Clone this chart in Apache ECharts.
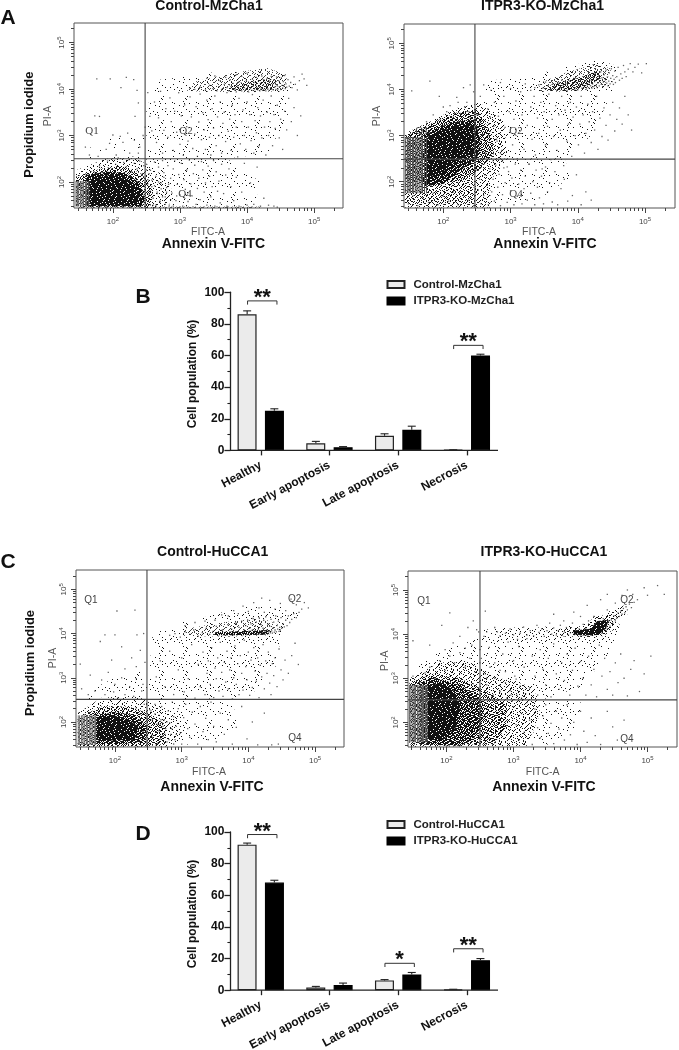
<!DOCTYPE html>
<html><head><meta charset="utf-8"><style>html,body{margin:0;background:#fff}#c{width:679px;height:1050px;filter:blur(.4px)}</style>
<script src="https://cdn.jsdelivr.net/npm/echarts@6/dist/echarts.min.js"></script></head><body><div id="c"></div>
<script>
// ---- bar data ----
const categories=['Healthy','Early apoptosis','Late apoptosis','Necrosis'];
const mzControl=[86,4.5,9.3,0.3], mzControlErr=[2.2,1.2,1.2,0.1];
const mzKO=[25,2,13,60], mzKOErr=[1.3,0.4,2.3,0.8];
const huControl=[92,1.7,6.2,0.5], huControlErr=[1,0.7,0.5,0.1];
const huKO=[68,3.3,10,19], huKOErr=[1.5,1.2,1.2,1];
const mzBrackets=[[0,94.5,'**'],[3,66.4,'**']];
const huBrackets=[[0,98.4,'**'],[2,17,'*'],[3,26.2,'**']];
const decadeTicks=[2,3,4,5];
// ---- flow cytometry density regions: [density level, opacity, outline in log10 FITC / log10 PI] ----
const aRegions=[
 [.4,1,[[2.5,2.5],[2.5,3.6],[2.7,4.2],[3.3,4.3],[3.8,4.45],[4.5,4.4],[4.7,4.1],[4.6,3.4],[4.3,2.6],[3.6,2.5]]],
 [.4,1,[[2.5,2.5],[3.7,2.5],[4.2,2.0],[4.1,1.47],[2.5,1.47]]],
 [.3,1,[[1.5,2.5],[2.48,2.5],[2.48,3.0],[2.0,2.95],[1.6,2.7]]],
 [4,.6,[[2.5,1.44],[4.2,1.44],[4.2,1.47],[2.5,1.47]]],
 [2,.8,[[3.1,3.95],[3.2,4.15],[3.8,4.35],[4.3,4.45],[4.6,4.3],[4.55,3.95],[4.0,3.93]]],
 [4,.9,[[3.7,3.97],[3.75,4.1],[4.2,4.2],[4.45,4.2],[4.4,4.0],[4.0,3.97]]],
 [1.5,1,[[1.45,1.45],[1.45,2.25],[1.9,2.5],[2.3,2.55],[2.6,2.3],[2.85,2.0],[2.9,1.6],[2.75,1.45]]],
 [4,1,[[1.45,1.45],[1.45,2.12],[1.8,2.28],[2.1,2.35],[2.4,2.2],[2.55,2.0],[2.6,1.7],[2.55,1.45]]],
 [8,1,[[1.6,1.47],[1.6,2.15],[1.9,2.22],[2.2,2.2],[2.42,1.95],[2.47,1.6],[2.42,1.47]]],
 [9,1,[[1.66,1.5],[1.66,2.05],[1.8,2.1],[1.96,2.15],[2.15,2.08],[2.31,1.98],[2.4,1.75],[2.35,1.5]]]];
const bRegions=[
 [.5,1,[[2.5,2.5],[2.5,3.8],[2.7,4.2],[3.2,4.25],[3.7,4.45],[4.3,4.65],[4.6,4.5],[4.5,3.9],[4.2,3.0],[3.8,2.5]]],
 [.4,1,[[2.5,2.5],[3.8,2.5],[3.9,2.1],[3.4,1.6],[2.5,1.47]]],
 [2,1,[[1.43,1.44],[1.43,3.05],[1.8,3.3],[2.2,3.6],[2.55,3.7],[2.9,3.3],[2.95,2.6],[2.7,2.0],[2.7,1.44]]],
 [3,1,[[1.45,1.5],[1.45,2.2],[2.4,2.2],[2.5,1.5]]],
 [5,1,[[1.45,2.0],[1.45,3],[1.8,3.25],[2.2,3.5],[2.5,3.55],[2.7,3.1],[2.75,2.6],[2.5,2.2],[2.2,2.0]]],
 [8,1,[[1.72,1.9],[1.72,3.0],[1.95,3.2],[2.2,3.3],[2.47,3.35],[2.55,2.9],[2.5,2.5],[2.25,2.25],[2.0,1.95]]],
 [9,1,[[1.76,2.97],[1.95,3.1],[2.2,3.2],[2.42,3.22],[2.47,2.9],[2.42,2.6],[2.15,2.42],[1.95,2.15],[1.76,2.12]]],
 [2.5,.8,[[3.4,3.95],[3.45,4.15],[3.8,4.35],[4.25,4.55],[4.5,4.45],[4.4,4.1],[4.0,3.95]]],
 [5,.9,[[3.55,4.0],[3.6,4.1],[4.0,4.25],[4.3,4.4],[4.35,4.25],[4.1,4.03],[3.8,3.97]]]];
const cRegions=[
 [.5,1,[[2.5,2.5],[2.55,3.9],[2.8,4.2],[3.3,4.35],[3.9,4.6],[4.5,4.6],[4.8,4.45],[4.5,4.0],[4.4,3.2],[4.0,2.55]]],
 [.4,1,[[2.5,2.5],[3.7,2.5],[3.9,2.0],[3.4,1.5],[2.5,1.47]]],
 [.4,1,[[1.5,2.5],[2.48,2.5],[2.48,3.2],[2.0,3.0],[1.6,2.7]]],
 [1.5,1,[[1.44,1.44],[1.44,2.2],[1.8,2.55],[2.3,2.6],[2.7,2.35],[3.0,2.1],[3.0,1.6],[2.75,1.44]]],
 [4,1,[[1.45,1.45],[1.45,2.1],[1.8,2.35],[2.2,2.35],[2.5,2.2],[2.75,1.95],[2.75,1.5],[2.5,1.45]]],
 [7,1,[[1.7,1.5],[1.7,2.15],[2.0,2.22],[2.3,2.15],[2.48,1.9],[2.45,1.55],[2.1,1.5]]],
 [9,1,[[1.73,1.58],[1.73,2.1],[1.98,2.15],[2.2,2.05],[2.35,1.9],[2.3,1.6],[2.0,1.58]]],
 [2,.8,[[3.0,3.95],[3.05,4.1],[3.6,4.25],[4.2,4.35],[4.45,4.2],[4.3,3.96],[3.7,3.93]]],
 [7,1,[[3.5,3.96],[3.5,4.03],[4.3,4.08],[4.3,3.98],[3.9,3.96]]]];
const dRegions=[
 [.6,1,[[2.5,2.6],[2.5,4.1],[3.2,4.15],[3.9,4.2],[4.4,4.4],[4.6,4.2],[4.4,3.5],[4.0,2.8],[3.4,2.5]]],
 [.5,1,[[3.3,2.5],[4.0,2.5],[4.0,2.0],[3.6,1.5],[3.3,1.5]]],
 [.6,1,[[1.5,3.2],[1.9,3.6],[2.48,3.9],[2.48,3.2]]],
 [2,1,[[1.45,1.45],[1.45,3],[1.9,3.35],[2.3,3.4],[2.8,3.0],[3.3,2.8],[3.4,2.2],[3.2,1.47]]],
 [4.5,1,[[1.45,1.5],[1.45,2.9],[1.8,3.1],[2.2,3.0],[2.6,2.7],[2.9,2.4],[2.9,1.9],[2.7,1.5]]],
 [7,1,[[1.6,1.5],[1.6,2.9],[1.85,3.0],[2.2,2.85],[2.5,2.55],[2.55,2.1],[2.4,1.6],[2.2,1.47]]],
 [9,1,[[1.72,2.8],[1.9,2.9],[2.1,2.75],[2.2,2.4],[2.15,1.9],[1.95,1.6],[1.72,1.6]]],
 [1,1,[[2.8,3.9],[2.8,4.15],[3.7,4.15],[3.9,3.95]]],
 [2.5,1,[[3.7,3.95],[3.7,4.12],[4.1,4.2],[4.2,4.4],[4.5,4.45],[4.5,4.1],[4.3,3.93]]],
 [1.5,1,[[4.4,4.25],[4.4,4.5],[4.65,4.65],[4.7,4.45]]],
 [9,1,[[3.9,4.0],[3.9,4.08],[4.15,4.12],[4.25,4.3],[4.42,4.32],[4.38,4.12],[4.25,3.98],[4.05,3.97]]]];
const aStripes=[1.45,1.47,1.49,1.52,1.54,1.56,1.59,1.61,1.64], aStripeSpan=[1.47,2.02];
const bStripes=[1.44,1.47,1.49,1.51,1.54,1.56,1.59,1.61,1.64,1.67,1.69,1.72,1.75], bStripeSpan=[1.75,2.97];
const cStripes=[1.45,1.47,1.5,1.52,1.54,1.57,1.59,1.62,1.64,1.66,1.69,1.71], cStripeSpan=[1.48,2.15];
const dStripes=[1.45,1.47,1.5,1.52,1.54,1.57,1.59,1.62,1.64,1.66,1.69,1.71], dStripeSpan=[1.55,2.85];
// ---- individual events: log10 FITC, log10 PI x100, flat pairs ----
const aDots=[315,402,322,399,330,404,338,398,344,408,349,401,355,396,358,405,362,399,366,410,370,403,373,396,376,405,379,412,382,400,384,394,386,407,388,416,390,401,392,396,394,409,396,403,398,399,399,418,401,406,402,394,404,412,405,401,407,397,408,421,409,406,410,414,411,400,412,395,413,409,414,425,415,403,416,398,417,417,418,407,419,396,420,412,421,402,422,428,423,397,424,408,425,420,426,401,427,414,428,396,429,406,430,423,431,400,432,411,433,397,434,417,435,403,436,427,437,399,438,410,439,398,440,420,441,404,442,413,443,399,444,426,445,407,446,400,447,418,448,405,449,412,450,399,451,424,452,408,453,402,454,416,455,406,456,429,457,401,458,411,459,404,461,420,463,406,465,414,467,403,470,426,472,410,475,398,478,418,482,432,485,422,489,408,340,423,352,428,360,418,368,425,375,420,384,431,392,427,400,434,
252,392,255,341,258,310,262,372,265,285,268,338,271,395,274,262,276,311,279,358,282,296,285,381,287,330,290,268,292,352,295,307,298,392,300,281,302,342,305,257,307,366,310,319,312,288,315,383,317,340,319,272,322,303,324,362,326,255,328,329,330,389,332,291,334,349,336,312,338,270,340,376,342,334,344,296,346,258,348,358,350,316,352,385,354,278,356,340,358,300,360,372,362,262,364,326,366,350,368,287,370,392,372,309,374,335,376,268,378,365,380,296,382,345,384,318,386,254,388,380,390,282,392,330,394,355,396,300,398,270,400,372,402,318,404,345,406,289,408,388,410,262,412,332,414,306,416,360,418,278,420,342,422,295,424,376,426,318,428,258,430,350,432,300,434,330,436,385,438,278,440,345,442,315,445,365,448,295,450,335,453,270,456,352,459,312,462,380,466,330,470,360,475,300,480,342,
250,238,252,205,254,172,256,225,258,190,260,150,262,243,264,212,266,178,268,232,270,158,272,198,274,246,276,220,278,168,280,188,282,235,284,150,286,208,288,176,290,228,292,245,294,160,296,195,298,216,300,172,302,240,304,148,306,205,308,184,310,226,312,158,314,247,316,196,318,170,320,218,322,236,324,152,326,186,328,208,330,162,332,244,334,226,336,178,338,198,340,150,342,234,344,212,346,168,348,190,350,246,352,148,354,222,356,180,358,202,360,155,362,238,365,175,368,215,370,148,373,228,376,190,380,160,384,210,388,148,392,178,396,240,400,150,405,198,410,152,415,232,420,148,425,165,432,150,440,148,445,146,
176,422,196,422,220,425,231,420,236,397,212,403,173,342,180,341,238,370,233,341,200,301,211,298,159,275,190,270,215,285,225,262,240,275,205,258,178,255,232,290,245,300,195,283,165,258,222,305,238,262,248,318,
160,215,172,222,180,235,186,218,192,245,198,228,204,238,208,252,212,226,216,242,220,233,224,248,228,222,232,240,236,228,240,245,244,218,246,235,248,208,250,226,252,196,254,218,256,180,258,204,260,165,262,192,264,150,266,175,268,200,270,158,272,185,274,168,276,210,278,152,280,178,283,195,286,162,290,148,295,170];
const bDots=[330,398,336,404,342,410,348,403,352,416,356,408,360,400,363,412,366,405,369,398,372,414,374,404,376,420,378,409,380,401,382,413,384,398,386,406,388,418,390,402,392,411,394,424,396,404,398,415,400,399,402,409,404,421,406,403,408,413,409,428,410,406,412,418,413,401,414,410,415,425,416,404,417,415,418,432,419,408,420,420,421,403,422,412,423,427,424,406,425,417,426,435,427,409,428,422,429,404,430,414,431,429,432,408,433,419,434,438,435,411,436,425,437,406,438,416,439,432,440,410,441,421,442,442,443,414,444,427,445,408,446,418,447,436,448,412,449,424,450,445,451,417,452,430,453,411,454,422,455,440,456,415,458,428,460,448,462,420,464,434,466,424,468,452,470,438,472,428,475,444,478,456,482,438,485,448,490,455,495,436,502,456,
252,345,255,385,258,302,260,410,263,262,266,358,268,325,271,398,274,245,276,372,279,292,282,342,285,415,287,268,290,385,292,318,295,232,298,352,300,402,303,280,305,335,308,375,310,250,312,305,315,395,317,345,320,270,322,412,325,322,327,238,330,362,332,292,335,385,337,258,340,338,342,305,345,372,347,228,350,352,352,280,355,320,357,390,360,248,362,335,364,298,367,365,369,268,372,345,374,312,376,385,379,235,381,355,384,288,386,325,389,372,391,255,393,340,396,300,398,362,401,280,403,325,405,385,408,345,410,262,412,305,415,368,417,330,420,285,422,352,425,312,428,385,430,270,433,338,436,298,439,360,442,322,445,290,448,345,452,372,455,310,458,335,462,360,466,325,470,385,475,345,480,312,
250,225,252,182,254,205,256,152,258,238,260,170,262,215,265,192,267,150,269,228,272,178,274,205,276,158,278,236,281,188,283,216,285,148,288,172,290,230,292,198,295,155,297,222,300,180,302,208,305,150,307,238,310,168,312,195,315,225,317,152,320,185,322,212,325,160,328,238,330,175,333,200,336,150,338,225,340,188,343,165,346,212,349,152,352,232,355,178,358,198,362,156,366,222,370,150,375,185,380,205,385,158,392,170,398,215,405,150,412,178,420,160,
180,418,153,397,194,385,230,404,220,383,240,410,235,372,210,365,245,395,175,330,185,345,195,335,205,352,215,340,225,348,232,362,240,338,248,355,255,330,200,362,222,372,238,352,250,345,262,318,270,340,268,300,275,320,280,288,285,262,288,245,148,152,155,170,162,148,170,165,178,155,185,175,192,150,200,168,208,158,215,178,222,150,230,170,238,160,245,148];
const cDots=[282,396,290,400,298,392,305,404,312,398,318,408,325,394,331,402,337,412,342,398,347,405,352,416,357,400,361,408,365,396,369,420,372,402,375,410,378,398,381,424,384,404,386,414,388,398,390,428,392,402,394,408,396,418,398,398,399,430,401,404,402,412,403,398,404,422,405,402,406,408,407,434,408,399,409,404,410,416,411,400,412,426,413,403,414,398,415,410,416,436,417,400,418,405,419,420,420,399,421,403,422,412,423,430,424,400,425,404,426,438,427,401,428,408,429,422,430,400,431,405,432,416,433,402,434,432,435,406,436,401,437,412,438,426,439,403,440,408,441,440,442,404,443,418,444,410,445,428,446,405,447,414,448,408,449,436,450,412,452,422,454,415,456,430,458,418,460,440,462,425,465,432,468,445,472,436,476,448,480,455,
370,440,378,452,385,445,392,462,400,450,408,470,416,458,424,448,432,475,440,455,448,468,456,452,464,478,472,465,484,470,490,458,420,480,350,430,335,428,320,425,305,418,360,442,
262,302,268,338,275,280,282,360,288,262,295,318,300,345,304,268,310,298,315,375,320,254,325,330,328,280,332,358,335,262,338,310,340,338,343,285,345,368,348,255,350,322,352,298,354,345,356,270,358,380,360,312,362,258,364,335,366,290,368,360,370,275,372,318,374,345,376,252,378,300,380,372,382,285,384,332,386,262,388,350,390,310,392,272,394,385,396,325,398,295,400,358,402,260,404,340,406,278,408,368,410,315,412,292,414,345,416,255,418,328,420,302,422,375,424,275,426,338,428,310,430,358,432,288,434,262,436,332,438,305,440,345,443,280,446,365,449,318,452,295,455,340,460,310,465,350,470,378,475,330,
252,190,254,225,256,165,258,208,260,240,262,178,264,152,266,215,268,195,270,235,272,168,274,205,276,185,278,155,280,225,282,198,284,172,286,245,288,212,290,160,292,190,295,230,298,175,300,150,303,210,306,240,309,185,312,165,316,222,320,195,324,150,328,235,332,178,336,208,340,160,344,245,348,190,352,155,358,220,364,172,370,205,376,150,382,188,390,235,398,162,406,200,414,148,424,220,435,148,445,150,
203,451,230,453,185,397,200,397,233,397,243,400,178,382,148,331,163,306,210,370,225,345,238,362,195,340,215,320,232,325,245,335,180,295,190,312,200,285,210,300,222,280,232,298,240,270,170,270,160,262,185,262,198,268,215,262,228,258,242,285,150,275,205,255,
232,232,238,218,244,240,248,208,252,228,256,205,260,218,263,195,266,180,269,205,272,190,275,172,278,200,281,160,285,185,288,150,292,172,235,165,242,178,248,155,255,170,262,150,268,162];
const dDots=[245,410,260,405,272,415,280,396,288,402,295,412,300,398,306,388,310,402,315,416,320,398,325,408,330,396,335,420,338,404,342,412,346,395,350,408,354,425,357,400,360,414,364,398,367,408,370,420,373,398,376,405,379,415,382,398,385,403,388,425,391,399,394,408,396,400,398,412,400,398,402,404,404,422,406,400,408,412,410,402,412,430,414,404,416,398,418,410,420,402,422,418,424,405,426,428,428,408,430,415,432,402,434,435,436,420,438,408,440,412,442,428,444,418,446,432,448,425,450,442,452,430,454,436,456,448,458,440,460,452,462,445,464,458,466,448,468,462,470,455,473,468,476,460,480,472,485,478,
360,445,375,430,390,450,400,440,410,465,420,440,430,478,440,455,452,470,462,488,478,490,495,505,470,500,440,490,500,488,515,510,525,490,
252,345,256,395,260,300,264,370,268,258,272,335,276,405,280,285,284,355,288,315,292,382,296,262,300,340,304,298,308,372,312,255,316,325,320,390,324,278,328,350,332,305,336,262,340,365,344,320,348,285,352,345,356,258,360,378,364,310,368,275,372,335,376,295,380,355,384,262,388,318,392,368,396,282,400,338,404,300,408,262,412,350,416,285,420,320,424,258,428,375,432,305,436,345,440,275,444,315,448,262,452,335,456,290,460,355,465,300,470,260,475,320,480,340,488,270,495,310,505,350,
300,235,304,195,308,160,312,220,316,178,320,245,324,205,328,150,332,230,336,188,340,165,344,215,348,240,352,175,356,198,360,152,364,225,368,185,372,210,376,160,380,240,385,172,390,200,395,150,400,225,405,180,410,155,416,210,422,170,430,150,440,225,448,190,455,160,465,205,
150,305,160,290,168,312,175,325,183,300,190,340,198,318,205,350,212,335,220,358,228,325,235,345,242,315,250,335,258,310,265,325,272,300,280,318,288,290,295,272,302,305,310,282,318,265,240,288,250,270,260,285,270,262,280,270,290,255,298,248,305,262,
193,420,232,415,205,448,220,395,240,430,248,405,258,452,210,380,198,365,238,375,175,375,150,385,228,368,250,365];
// stipple tile used to fill density regions (a pixel is drawn where its digit is below the level; the fraction thins the next digit using its right neighbour)
const stippleRows=["482917360548219736401852","936150742893065124879306","257084619372841590326147","614793258106473928015684","098526471935260784169372","743168905247518036492850","325901786463092671857214","871452039618745203964037","160738594272916845130682","594206183750348167297541","238671940915726039584106","706394528143895412673298","451820376692107358940763","983517240468639275016425","127046893751284906371589","640385719023568147925037","372958106487903612048716","815264037195476830592143","069731582640215978316820","534809617328760142689357","798142365096431875207964","216573908754089326415078","905628471316752049863125","347091256882163597041682"];

const FONT='"Liberation Sans",Arial,sans-serif';
const SERIF='"Liberation Serif",serif';
const pairs=f=>{const o=[];for(let i=0;i+1<f.length;i+=2)o.push([f[i]/100,f[i+1]/100]);return o;};
const minorTicks=(lo,hi)=>{const o=[];for(let d=1;d<=5;d++)for(let m=2;m<=9;m++){const v=d+Math.log10(m);if(v>lo&&v<hi)o.push(v);}return o;};
const tiles={};
function tile(level){
  if(tiles[level])return tiles[level];
  const cv=document.createElement('canvas');cv.width=24;cv.height=24;const g=cv.getContext('2d');g.fillStyle='#111';
  const whole=Math.floor(level),frac=(level-whole)*10;
  stippleRows.forEach((r,y)=>{for(let x=0;x<r.length;x++){const d=+r[x],n=+r[(x+1)%r.length];
    if(d<whole||(d===whole&&n<frac))g.fillRect(x,y,1,1);}});
  return tiles[level]=cv;
}
const flow=[
 {box:[74,23,269,185],xr:[1.42,5.43],yr:[1.44,5.42],gate:[2.48,2.5],dots:aDots,reg:aRegions,st:aStripes,sp:aStripeSpan,stC:'#666'},
 {box:[404,24,271,184],xr:[1.415,5.446],yr:[1.43,5.42],gate:[2.47,2.49],dots:bDots,reg:bRegions,st:bStripes,sp:bStripeSpan,stC:'#555'},
 {box:[76,570,268,177],xr:[1.416,5.434],yr:[1.434,5.437],gate:[2.48,2.51],dots:cDots,reg:cRegions,st:cStripes,sp:cStripeSpan,stC:'#777'},
 {box:[408,571,269,176],xr:[1.426,5.44],yr:[1.443,5.43],gate:[2.5,2.51],dots:dDots,reg:dRegions,st:dStripes,sp:dStripeSpan,stC:'#666'}
];
const grid=[],xAxis=[],yAxis=[],series=[];
const supLabel=v=>'{b|10}{s|'+v+'}';
const rich={b:{fontSize:8,color:'#444',fontFamily:FONT},s:{fontSize:6,color:'#444',fontFamily:FONT,padding:[0,0,5,0]}};
flow.forEach((p,i)=>{
  grid.push({left:p.box[0],top:p.box[1],width:p.box[2],height:p.box[3],outerBoundsMode:'none',show:true,borderColor:'#555',borderWidth:1,backgroundColor:'transparent'});
  const tickLine={color:'#444',width:1};
  const x0=xAxis.length,y0=yAxis.length;
  xAxis.push({type:'value',gridIndex:i,position:'bottom',min:p.xr[0],max:p.xr[1],splitLine:{show:false},axisLine:{show:false},
    axisTick:{show:true,length:5,lineStyle:tickLine,customValues:decadeTicks},
    axisLabel:{show:true,customValues:decadeTicks,formatter:supLabel,rich,margin:8,hideOverlap:false}});
  xAxis.push({type:'value',gridIndex:i,position:'bottom',min:p.xr[0],max:p.xr[1],splitLine:{show:false},axisLine:{show:false},
    axisTick:{show:true,length:3,lineStyle:tickLine,customValues:minorTicks(p.xr[0],p.xr[1])},axisLabel:{show:false}});
  yAxis.push({type:'value',gridIndex:i,position:'left',min:p.yr[0],max:p.yr[1],splitLine:{show:false},axisLine:{show:false},
    axisTick:{show:true,length:5,lineStyle:tickLine,customValues:decadeTicks},
    axisLabel:{show:true,customValues:decadeTicks,formatter:supLabel,rich,rotate:90,margin:7,hideOverlap:false}});
  yAxis.push({type:'value',gridIndex:i,position:'left',min:p.yr[0],max:p.yr[1],splitLine:{show:false},axisLine:{show:false},
    axisTick:{show:true,length:3,lineStyle:tickLine,customValues:minorTicks(p.yr[0],p.yr[1])},axisLabel:{show:false}});
  series.push({type:'custom',xAxisIndex:x0,yAxisIndex:y0,silent:true,z:1,data:p.reg.map((_,k)=>[k]),
    renderItem:(params,api)=>{const q=p.reg[params.dataIndex];
      return {type:'polygon',shape:{points:q[2].map(v=>api.coord(v))},style:{fill:{image:tile(q[0]),repeat:'repeat'},opacity:q[1]}};}});
  series.push({type:'custom',xAxisIndex:x0,yAxisIndex:y0,silent:true,z:2,data:p.st.map(v=>[v,p.sp[0],p.sp[1]]),
    renderItem:(params,api)=>{const a=api.coord([api.value(0),api.value(1)]),b=api.coord([api.value(0),api.value(2)]);
      return {type:'line',shape:{x1:a[0],y1:a[1],x2:b[0],y2:b[1]},style:{stroke:p.stC,lineWidth:1}};}});
  series.push({type:'scatter',xAxisIndex:x0,yAxisIndex:y0,silent:true,z:3,symbol:'rect',symbolSize:1.3,itemStyle:{color:'#222',opacity:.7},data:pairs(p.dots)});
  series.push({type:'line',xAxisIndex:x0,yAxisIndex:y0,silent:true,z:4,symbol:'none',lineStyle:{color:'#444',width:1.1},data:[[p.gate[0],p.yr[0]],[p.gate[0],p.yr[1]]]});
  series.push({type:'line',xAxisIndex:x0,yAxisIndex:y0,silent:true,z:4,symbol:'none',lineStyle:{color:'#444',width:1.1},data:[[p.xr[0],p.gate[1]],[p.xr[1],p.gate[1]]]});
});
const OFFSET=13.6;
function addBars(top,names,c,cE,k,kE,br){
  const g=grid.length;
  grid.push({left:226.4,top:top,width:274.8,height:158.2,outerBoundsMode:'none'});
  const dark='#222';
  const xi=xAxis.length,yi=yAxis.length;
  xAxis.push({type:'category',gridIndex:g,data:categories,axisLine:{show:false},
    axisTick:{show:true,length:5,alignWithLabel:true,lineStyle:{color:dark,width:1.3}},
    axisLabel:{interval:0,rotate:28,margin:14,fontFamily:FONT,fontWeight:'bold',fontSize:12,color:'#111'}});
  yAxis.push({type:'value',gridIndex:g,min:0,max:100,interval:20,offset:-4,splitLine:{show:false},
    axisLine:{show:true,lineStyle:{color:dark,width:1.3}},axisTick:{show:true,length:6,lineStyle:{color:dark,width:1.3}},
    minorTick:{show:true,splitNumber:2,length:3,lineStyle:{color:dark,width:1.1}},
    axisLabel:{margin:6,fontFamily:FONT,fontWeight:'bold',fontSize:12,color:'#111'}});
  series.push({type:'bar',name:names[0],xAxisIndex:xi,yAxisIndex:yi,barWidth:19,barGap:'44%',data:c,itemStyle:{color:'#ebebeb',borderColor:dark,borderWidth:1.2}});
  series.push({type:'bar',name:names[1],xAxisIndex:xi,yAxisIndex:yi,barWidth:19,barGap:'44%',data:k,itemStyle:{color:'#000',borderColor:'#000',borderWidth:1.2}});
  const err=[];c.forEach((v,n)=>err.push([n,v,cE[n],-1]));k.forEach((v,n)=>err.push([n,v,kE[n],1]));
  series.push({type:'custom',xAxisIndex:xi,yAxisIndex:yi,silent:true,z:5,data:err,renderItem:(pm,api)=>{
    const n=api.value(0),v=api.value(1),e=api.value(2),s=api.value(3);
    const a=api.coord([n,v]),b=api.coord([n,v+e]),x=a[0]+s*OFFSET;
    return {type:'group',children:[
      {type:'line',shape:{x1:x,y1:a[1],x2:x,y2:b[1]},style:{stroke:dark,lineWidth:1.1}},
      {type:'line',shape:{x1:x-4,y1:b[1],x2:x+4,y2:b[1]},style:{stroke:dark,lineWidth:1.1}}]};}});
  series.push({type:'custom',xAxisIndex:xi,yAxisIndex:yi,silent:true,z:5,data:br.map(b=>[b[0],b[1]]),renderItem:(pm,api)=>{
    const n=api.value(0),v=api.value(1),a=api.coord([n,v]),cx=a[0]+1.5,yy=a[1],star=br[pm.dataIndex][2];
    return {type:'group',children:[
      {type:'polyline',shape:{points:[[cx-14.7,yy+3.7],[cx-14.7,yy],[cx+14.7,yy],[cx+14.7,yy+3.7]]},style:{stroke:'#333',lineWidth:1,fill:null}},
      {type:'text',style:{text:star,x:cx,y:yy-14,font:'bold 22px '+FONT,fill:'#111',textAlign:'center',textVerticalAlign:'top'}}]};}});
}
addBars(292.2,['Control-MzCha1','ITPR3-KO-MzCha1'],mzControl,mzControlErr,mzKO,mzKOErr,mzBrackets);
addBars(832,['Control-HuCCA1','ITPR3-KO-HuCCA1'],huControl,huControlErr,huKO,huKOErr,huBrackets);
const legendBase={orient:'vertical',left:381.5,itemWidth:17,itemHeight:7,itemGap:4.5,icon:'rect',selectedMode:false,textStyle:{fontFamily:FONT,fontWeight:'bold',fontSize:11.5,color:'#222',padding:[0,0,0,4]}};
const legend=[Object.assign({},legendBase,{top:273.5,data:['Control-MzCha1','ITPR3-KO-MzCha1']}),Object.assign({},legendBase,{top:813.5,data:['Control-HuCCA1','ITPR3-KO-HuCCA1']})];
// ---- texts ----
const T=(text,x,y,font,fill,rot,fam)=>({type:'text',x,y,rotation:rot||0,z:20,silent:true,style:{text,font:font+' '+(fam||FONT),fill:fill||'#111',textAlign:'center',textVerticalAlign:'middle'}});
const AX=(x1,x2,y)=>({type:'line',z:6,silent:true,shape:{x1,y1:y,x2,y2:y},style:{stroke:'#222',lineWidth:1.3}});
const R=Math.PI/2,B14='bold 14px',B13='bold 13px',G='10.5px',Q='10px';
const graphic=[
 T('A',8,18,'bold 21px'),T('B',143,297,'bold 21px'),T('C',8,562,'bold 21px'),T('D',143,834,'bold 21px'),
 T('Control-MzCha1',209,6,B14),T('ITPR3-KO-MzCha1',542.5,6,B14),T('Control-HuCCA1',212.7,552,B14),T('ITPR3-KO-HuCCA1',544,552,B14),
 T('Annexin V-FITC',213.4,244,B14),T('Annexin V-FITC',545,244,B14),T('Annexin V-FITC',212,787,B14),T('Annexin V-FITC',544,787,B14),
 T('FITC-A',208,232,G,'#555'),T('FITC-A',539,232,G,'#555'),T('FITC-A',209,772,G,'#555'),T('FITC-A',542.7,772,G,'#555'),
 T('PI-A',48,116,G,'#555',R),T('PI-A',376.7,116,G,'#555',R),T('PI-A',52.7,658,G,'#555',R),T('PI-A',385,660.7,G,'#555',R),
 T('Propidium iodide',29,124.7,B13,'#111',R),T('Propidium iodide',30,663,B13,'#111',R),
 T('Cell population (%)',192.7,374,'bold 12px','#111',R),T('Cell population (%)',192.7,914,'bold 12px','#111',R),
 T('Q1',92,131,'11px','#444',0,SERIF),T('Q2',186,131,'11px','#444',0,SERIF),T('Q4',185,194,'11px','#444',0,SERIF),
 T('Q1',422,131,'11px','#444',0,SERIF),T('Q2',516,131,'11px','#444',0,SERIF),T('Q4',516,194,'11px','#444',0,SERIF),
 T('Q1',91,600.7,Q,'#444'),T('Q2',294.7,599,Q,'#444'),T('Q4',295,738.7,Q,'#444'),
 T('Q1',424,601.7,Q,'#444'),T('Q2',627,600,Q,'#444'),T('Q4',627,739,Q,'#444'),
 AX(230,498,450.4),AX(230,498,990.2)
];
const chart=echarts.init(document.getElementById('c'),null,{renderer:'canvas'});
chart.setOption({animation:false,backgroundColor:'#fff',grid,xAxis,yAxis,series,legend,graphic,tooltip:{show:false}});
</script></body></html>
